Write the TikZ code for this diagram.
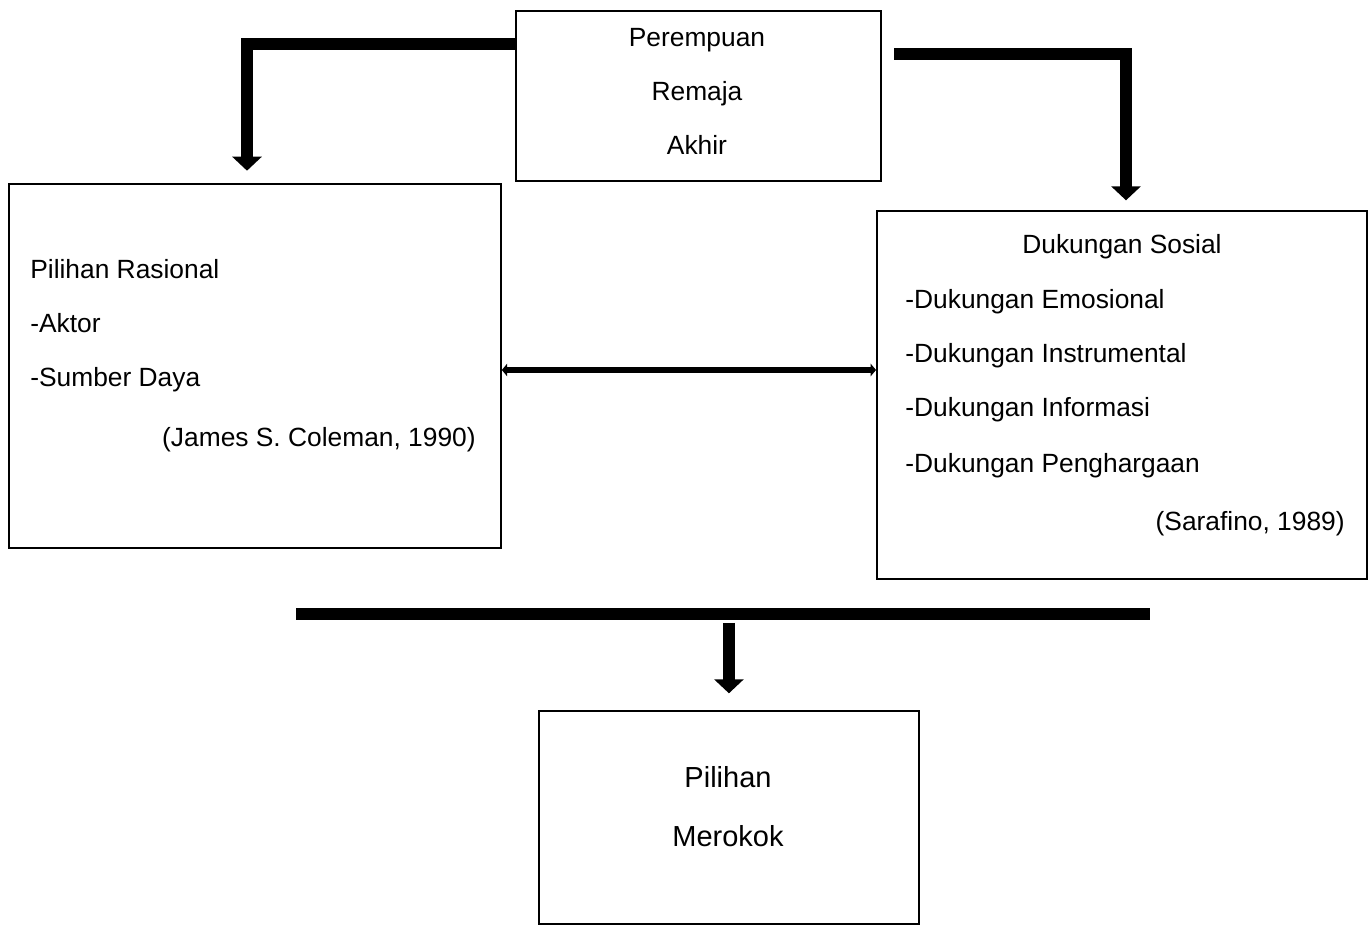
\documentclass[tikz,border=0pt]{standalone}
\usepackage{fontspec}
\setmainfont{Liberation Sans}
\usetikzlibrary{arrows.meta,positioning,calc}

\begin{document}
\begin{tikzpicture}[x=0.02cm, y=-0.02cm, line join=miter,
  box/.style={draw, line width=1.1pt, inner sep=0pt, anchor=north west},
  txt/.style={inner sep=0pt, font=\fontsize{15}{18}\selectfont},
  big/.style={inner sep=0pt, font=\fontsize{16.5}{20}\selectfont},
  fat/.style={line width=7pt, -{Triangle[width=16.5pt,length=8pt]}},
  twoway/.style={line width=3.4pt, {Triangle[width=7pt,length=3pt]}-{Triangle[width=7pt,length=3pt]}}]
\useasboundingbox (0,0) rectangle (1368,925);
% boxes
\node[box, minimum width=7.3cm, minimum height=3.4cm]   (remaja)  at (515,10)  {};
\node[box, minimum width=9.84cm, minimum height=7.28cm] (rasional) at (8,183)  {};
\node[box, minimum width=9.8cm, minimum height=7.36cm]  (sosial)  at (876,210) {};
\node[box, minimum width=7.6cm, minimum height=4.26cm]  (rokok)   at (538,710) {};
% texts
\node[txt, anchor=base] (t1) at (697,47)  {Perempuan};
\node[txt, anchor=base] (t2) at (697,101) {Remaja};
\node[txt, anchor=base] (t3) at (697,155) {Akhir};
\node[txt, anchor=base west] (r1) at (30,279) {Pilihan Rasional};
\node[txt, anchor=base west] (r2) at (30,333) {-Aktor};
\node[txt, anchor=base west] (r3) at (30,387) {-Sumber Daya};
\node[txt, anchor=base east] (r4) at (476,446) {(James S. Coleman, 1990)};
\node[txt, anchor=base] (s1) at (1122,254) {Dukungan Sosial};
\node[txt, anchor=base west] (s2) at (905,309) {-Dukungan Emosional};
\node[txt, anchor=base west] (s3) at (905,363) {-Dukungan Instrumental};
\node[txt, anchor=base west] (s4) at (905,417) {-Dukungan Informasi};
\node[txt, anchor=base west] (s5) at (905,472) {-Dukungan Penghargaan};
\node[txt, anchor=base east] (s6) at (1345,530) {(Sarafino, 1989)};
\node[big, anchor=base] (p1) at (728,787) {Pilihan};
\node[big, anchor=base] (p2) at (728,846) {Merokok};
% connectors
\coordinate (kiri)  at (247,44);
\coordinate (kanan) at (1126,54);
\coordinate (barL)  at (296,614);
\coordinate (barR)  at (1150,614);
\draw[fat, shorten >=7pt] (remaja.west |- kiri) -| (rasional.north -| kiri);
\draw[fat, shorten <=7pt, shorten >=5.5pt] (remaja.east |- kanan) -| (sosial.north -| kanan);
\draw[twoway] (rasional.east |- 0,370) -- (sosial.west |- 0,370);
\draw[line width=7pt] (barL) -- (barR);
\draw[fat, shorten <=5pt, shorten >=9.5pt] (rokok.north |- barL) -- (rokok.north);
\end{tikzpicture}
\end{document}
